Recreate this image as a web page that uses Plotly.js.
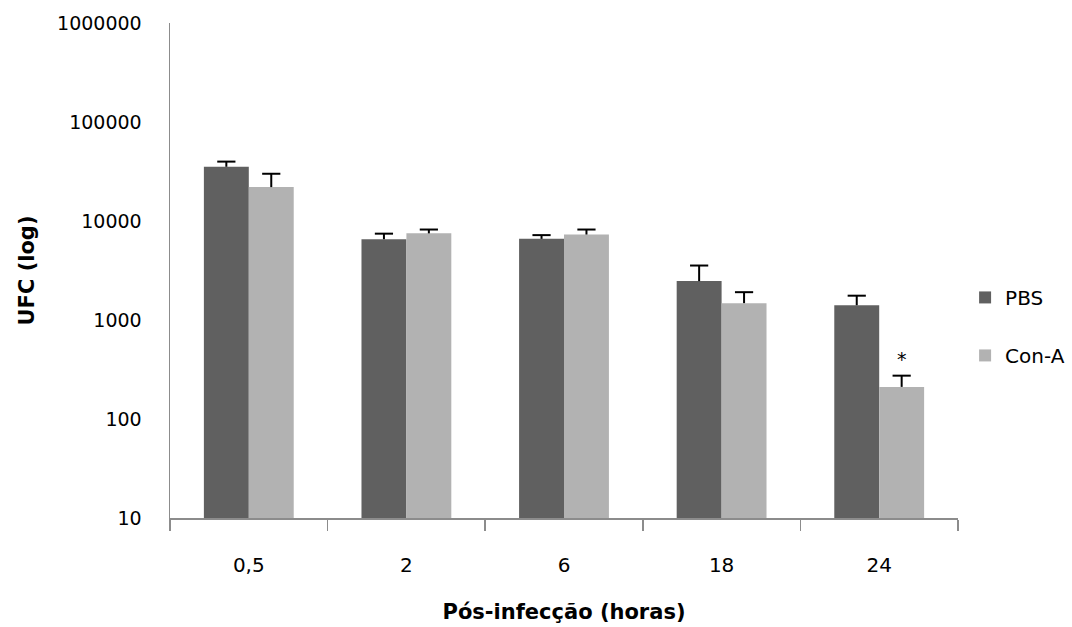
<!DOCTYPE html>
<html>
<head>
<meta charset="utf-8">
<script src="https://cdn.plot.ly/plotly-3.0.1.min.js"></script>
<style>
  html, body { margin: 0; padding: 0; background: #fff; }
  #chart { width: 1072px; height: 627px; }
</style>
</head>
<body>
<div id="chart"></div>
<script>
// Colony counts (UFC) per time point after infection
const hours = ['0,5', '2', '6', '18', '24'];
const pbs = [35300, 6550, 6600, 2470, 1410];
const pbsErr = [4500, 900, 600, 1080, 350];
const conA = [22000, 7500, 7300, 1480, 211];
const conAErr = [8000, 700, 900, 430, 63];
const marks = ['', '', '', '', '*'];

const FONT = 'DejaVu Sans, Verdana, sans-serif';
const zeros = hours.map(() => 0);
const bargap = 0.43;
const half = (1 - bargap) / 4;   // offset of each bar centre inside its group

// upward-only error stems; the caps are drawn separately so no cap sits on the bar top
const stem = arr => ({ type: 'data', array: arr, arrayminus: zeros, symmetric: false,
                       color: '#000', thickness: 2, width: 0 });

const traces = [
  { type: 'bar', name: 'PBS', x: hours, y: pbs, legendgroup: 'a',
    marker: { color: '#606060' }, error_y: stem(pbsErr) },
  { type: 'bar', name: 'Con-A', x: hours, y: conA, legendgroup: 'b',
    marker: { color: '#b2b2b2' }, error_y: stem(conAErr) }
];

// cross-bars at the upper end of every error stem
function caps(vals, errs, shift) {
  return {
    type: 'scatter', mode: 'markers', xaxis: 'x2', yaxis: 'y',
    x: hours.map((_, i) => i + shift),
    y: vals.map((v, i) => v + errs[i]),
    marker: { symbol: 'line-ew', size: 13, color: '#000', line: { color: '#000', width: 2 } },
    showlegend: false, hoverinfo: 'skip'
  };
}
traces.push(caps(pbs, pbsErr, -half), caps(conA, conAErr, half));

// significance marks above the Con-A error bars
const annotations = [];
marks.forEach((m, i) => {
  if (!m) return;
  annotations.push({
    xref: 'x2', yref: 'y',
    x: i + half,
    y: Math.log10(conA[i] + conAErr[i]),
    text: m, showarrow: false, yanchor: 'bottom', yshift: 4,
    font: { family: FONT, size: 19, color: '#000' }
  });
});

const layout = {
  width: 1072, height: 627,
  margin: { l: 170, r: 114, t: 23, b: 109, autoexpand: false },
  paper_bgcolor: '#fff', plot_bgcolor: '#fff',
  barmode: 'group', bargap: bargap, bargroupgap: 0,
  showlegend: true,
  legend: {
    x: 1.009, xanchor: 'left', y: 0.485, yanchor: 'top',
    traceorder: 'grouped', tracegroupgap: 29,
    font: { family: FONT, size: 20, color: '#000' },
    bgcolor: 'rgba(0,0,0,0)'
  },
  xaxis: {
    type: 'category',
    showline: true, linecolor: '#8c8c8c', linewidth: 1.5,
    ticks: 'outside', tickson: 'boundaries', ticklen: 11, tickcolor: '#8c8c8c', tickwidth: 1.5,
    ticklabelstandoff: 28,
    showgrid: false, zeroline: false,
    tickfont: { family: FONT, size: 20, color: '#000' },
    title: { text: '<b>Pós-infecção (horas)</b>', standoff: 29,
             font: { family: FONT, size: 21, color: '#000' } }
  },
  xaxis2: {
    overlaying: 'x', range: [-0.5, hours.length - 0.5], visible: false,
    showgrid: false, zeroline: false, fixedrange: true
  },
  yaxis: {
    type: 'log', range: [1, 6],
    tickvals: [10, 100, 1000, 10000, 100000, 1000000],
    ticktext: ['10', '100', '1000', '10000', '100000', '1000000'],
    showline: true, linecolor: '#8c8c8c', linewidth: 1.5,
    ticks: '', ticklabelstandoff: 23,
    showgrid: false, zeroline: false,
    tickfont: { family: FONT, size: 19, color: '#000' },
    title: { text: '<b>UFC (log)</b>', standoff: 16,
             font: { family: FONT, size: 21, color: '#000' } }
  },
  annotations: annotations
};

Plotly.newPlot('chart', traces, layout, { displayModeBar: false, staticPlot: true });
</script>
</body>
</html>
